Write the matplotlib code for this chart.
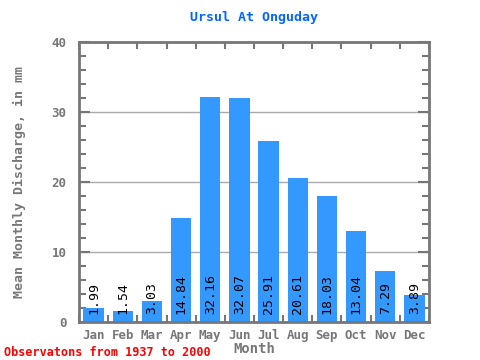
import matplotlib
matplotlib.use('Agg')
import matplotlib.pyplot as plt
import numpy as np
from matplotlib.ticker import MultipleLocator

months = ['Jan', 'Feb', 'Mar', 'Apr', 'May', 'Jun', 'Jul', 'Aug', 'Sep', 'Oct', 'Nov', 'Dec']
discharge = [1.99, 1.54, 3.03, 14.84, 32.16, 32.07, 25.91, 20.61, 18.03, 13.04, 7.29, 3.89]

plt.rcParams['font.family'] = ['DejaVu Sans Mono']
gray = '#777777'

fig = plt.figure(figsize=(4.8, 3.6), dpi=100)
ax = fig.add_axes([79 / 480, 38 / 360, 350 / 480, 280 / 360])

x = np.arange(len(months))
ax.bar(x, discharge, width=0.7, color='#3399ff', zorder=2)
for xi, v in zip(x, discharge):
    ax.text(xi, 1.2, f'{v:.2f}', rotation=90, ha='center', va='bottom',
            fontsize=9.5, color='black', zorder=3)

ax.set_xlim(-0.5, 11.5)
ax.set_ylim(0, 40)
ax.yaxis.set_major_locator(MultipleLocator(10))
ax.yaxis.set_minor_locator(MultipleLocator(2))
ax.grid(axis='y', which='major', color='#aaaaaa', linewidth=1, zorder=0)

ax.set_xticks(x)
ax.set_xticklabels(months)
ax.set_xticks(np.arange(-0.5, 12, 1), minor=True)
ax.tick_params(axis='x', which='major', length=0, colors=gray, labelsize=9, pad=5)
ax.tick_params(axis='x', which='minor', direction='in', length=5, width=1.5,
               color=gray, top=True, bottom=True)
ax.tick_params(axis='y', which='major', direction='in', length=8, width=1.5,
               color=gray, labelcolor=gray, labelsize=9, right=True, pad=9)
ax.tick_params(axis='y', which='minor', direction='in', length=5, width=1.5,
               color=gray, right=True)
for lab in ax.get_xticklabels() + ax.get_yticklabels():
    lab.set_fontweight('bold')

for s in ax.spines.values():
    s.set_color(gray)
    s.set_linewidth(2)

ax.set_xlabel('Month', color=gray, fontsize=10, fontweight='bold', labelpad=0)
ax.set_ylabel('Mean Monthly Discharge, in mm', color=gray, fontsize=9.5,
              fontweight='bold', labelpad=18)
fig.text(0.5 * (79 + 429) / 480, 1 - 18 / 360, 'Ursul At Onguday', color='#0066ff',
         fontsize=9.5, fontweight='bold', ha='center', va='center')
fig.text(4 / 480, 1 - 352 / 360, 'Observatons from 1937 to 2000', color='red',
         fontsize=8.5, fontweight='bold', ha='left', va='center')

fig.savefig('out.png', dpi=100)
